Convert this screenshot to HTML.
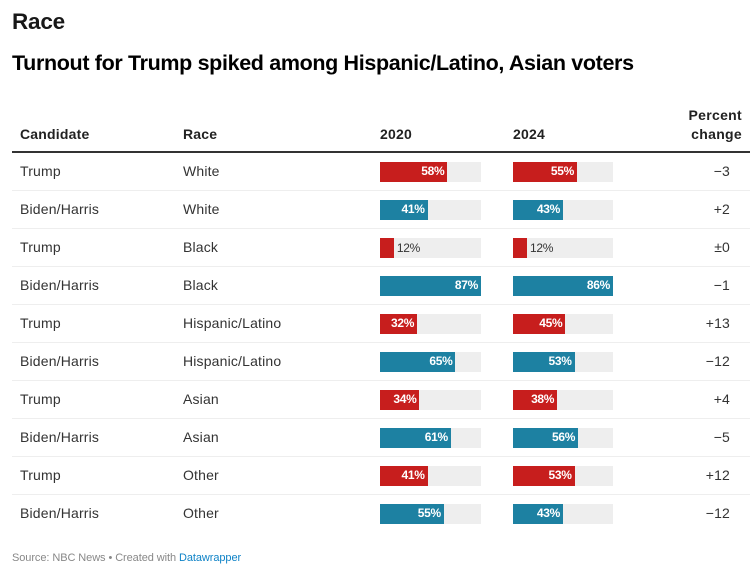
<!DOCTYPE html>
<html>
<head>
<meta charset="utf-8">
<style>
html,body{margin:0;padding:0;background:#fff}
#chart{position:relative;width:750px;height:569px;overflow:hidden;background:#fff;font-family:"Liberation Sans",Arial,sans-serif;color:#333}
#chart div{position:absolute;white-space:nowrap}
.h{font-size:14px;font-weight:700;color:#222;line-height:18px;letter-spacing:.2px}
.c{font-size:14px;line-height:18px;color:#333;letter-spacing:.17px}
.v{font-size:12px;line-height:20px;font-weight:700;color:#fff;letter-spacing:-.3px}
.o{font-size:12px;line-height:20px;font-weight:400;color:#333;letter-spacing:-.3px}
</style>
</head>
<body>
<div id="chart">
<div style="left:12px;top:8px;font-size:22.5px;line-height:27px;font-weight:700;color:#181818;letter-spacing:-.2px">Race</div>
<div style="left:12px;top:50px;font-size:21.5px;line-height:27px;font-weight:700;color:#000;letter-spacing:-.35px">Turnout for Trump spiked among Hispanic/Latino, Asian voters</div>
<div class="h" style="left:20px;top:125px">Candidate</div>
<div class="h" style="left:183px;top:125px">Race</div>
<div class="h" style="left:380px;top:125px">2020</div>
<div class="h" style="left:513px;top:125px">2024</div>
<div class="h" style="right:8px;top:106px;text-align:right;line-height:19px;letter-spacing:.3px">Percent<br>change</div>
<div style="left:12px;top:151px;width:738px;height:2px;background:#333"></div>
<div style="left:12px;top:551px;font-size:11px;line-height:14px;color:#888;letter-spacing:-.08px">Source: NBC News • Created with <span style="color:#0f83c7">Datawrapper</span></div>
</div>
<script>
var candidates = ["Trump","Biden/Harris","Trump","Biden/Harris","Trump","Biden/Harris","Trump","Biden/Harris","Trump","Biden/Harris"];
var races = ["White","White","Black","Black","Hispanic/Latino","Hispanic/Latino","Asian","Asian","Other","Other"];
var values2020 = [58,41,12,87,32,65,34,61,41,55];
var values2024 = [55,43,12,86,45,53,38,56,53,43];
var changes = ["−3","+2","±0","−1","+13","−12","+4","−5","+12","−12"];

var chart = document.getElementById('chart');
var max2020 = Math.max.apply(null, values2020);
var max2024 = Math.max.apply(null, values2024);
function scale2020(v){ return v / max2020 * 101; }
function scale2024(v){ return v / max2024 * 100; }
function rowTop(i){ return 152 + 38 * i; }
function colorFor(name){ return name === 'Trump' ? '#c71e1d' : '#1d81a2'; }

function drawBar(i, value, left, full, scale, year){
  var track = document.createElement('div');
  
  
  track.style.cssText = 'left:' + left + 'px;top:' + (rowTop(i) + 10) + 'px;width:' + full + 'px;height:20px;background:#eee';
  chart.appendChild(track);

  var w = scale(value);
  var bar = document.createElement('div');
  
  
  bar.style.cssText = 'left:' + left + 'px;top:' + (rowTop(i) + 10) + 'px;width:' + w + 'px;height:20px;background:' + colorFor(candidates[i]);
  chart.appendChild(bar);

  var label = document.createElement('div');
  
  
  label.textContent = value + '%';
  if (value >= 20) {
    label.className = 'v';
    label.style.cssText = 'right:' + (750 - left - w + 3) + 'px;top:' + (rowTop(i) + 9) + 'px';
  } else {
    label.className = 'o';
    label.style.cssText = 'left:' + (left + w + 3) + 'px;top:' + (rowTop(i) + 10) + 'px';
  }
  chart.appendChild(label);
}

candidates.forEach(function(name, i){
  var top = rowTop(i);

  var cand = document.createElement('div');
  cand.className = 'c';
  
  
  cand.textContent = name;
  cand.style.cssText = 'left:20px;top:' + (top + 10) + 'px';
  chart.appendChild(cand);

  var race = document.createElement('div');
  race.className = 'c';
  
  
  race.textContent = races[i];
  race.style.cssText = 'left:183px;top:' + (top + 10) + 'px';
  chart.appendChild(race);

  drawBar(i, values2020[i], 380, 101, scale2020, '2020');
  drawBar(i, values2024[i], 513, 100, scale2024, '2024');

  var change = document.createElement('div');
  change.className = 'c';
  
  
  change.textContent = changes[i];
  change.style.cssText = 'right:20px;top:' + (top + 10) + 'px';
  chart.appendChild(change);

  if (i < candidates.length - 1) {
    var rule = document.createElement('div');
    
    
    rule.style.cssText = 'left:12px;top:' + (top + 38) + 'px;width:738px;height:1px;background:#eee';
    chart.appendChild(rule);
  }
});
</script>
</body>
</html>
